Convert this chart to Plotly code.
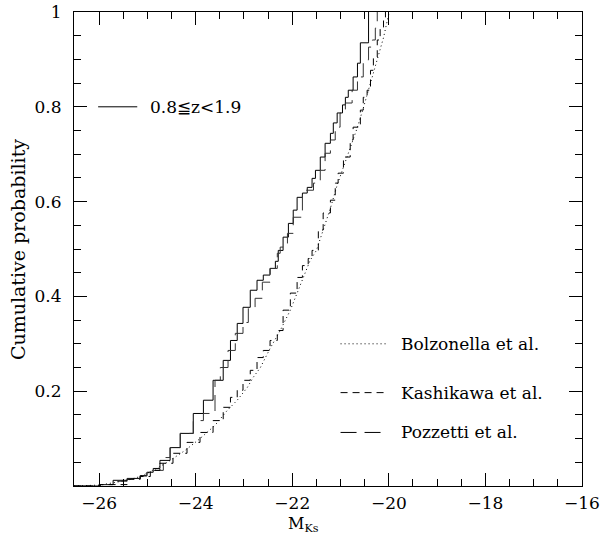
import plotly.graph_objects as go

# ---- data ----
obs_x = [-26.52, -26.25, -25.98, -25.71, -25.42, -25.15, -25.01, -24.88, -24.74, -24.53,
         -24.32, -24.05, -23.84, -23.64, -23.43, -23.28, -23.14, -23.02, -22.87, -22.73,
         -22.60, -22.46, -22.35, -22.29, -22.19, -22.08, -21.98, -21.90, -21.79, -21.69,
         -21.59, -21.52, -21.42, -21.32, -21.21, -21.15, -21.07, -20.96, -20.90, -20.84,
         -20.74, -20.65, -20.59, -20.42, -20.42]
obs_y = [0, 0, 0.003, 0.012, 0.016, 0.022, 0.029, 0.037, 0.054, 0.081,
         0.111, 0.153, 0.181, 0.223, 0.265, 0.307, 0.343, 0.377, 0.413, 0.434,
         0.445, 0.459, 0.474, 0.497, 0.525, 0.554, 0.582, 0.609, 0.618, 0.630,
         0.649, 0.666, 0.694, 0.723, 0.744, 0.766, 0.787, 0.804, 0.820, 0.835,
         0.863, 0.892, 0.935, 0.937, 1.0]

pozzetti_x = [-26.52, -26.25, -25.98, -25.71, -25.42, -25.15, -25.01, -24.88, -24.67, -24.53,
              -24.32, -24.05, -23.84, -23.60, -23.49, -23.33, -23.18, -23.02, -22.91, -22.77,
              -22.62, -22.46, -22.31, -22.25, -22.10, -21.98, -21.79, -21.73, -21.56, -21.42,
              -21.32, -21.21, -21.11, -21.01, -20.90, -20.76, -20.65, -20.53, -20.42, -20.34,
              -20.28, -20.24]
pozzetti_y = [0, 0, 0.003, 0.010, 0.015, 0.021, 0.028, 0.033, 0.060, 0.081,
              0.111, 0.138, 0.153, 0.223, 0.250, 0.286, 0.322, 0.345, 0.377, 0.396,
              0.430, 0.459, 0.491, 0.504, 0.533, 0.567, 0.614, 0.624, 0.639, 0.666,
              0.702, 0.730, 0.757, 0.787, 0.808, 0.835, 0.863, 0.899, 0.926, 0.941,
              0.966, 1.0]

kashikawa_x = [-26.52, -25.98, -25.42, -25.15, -24.94, -24.74, -24.47, -24.18, -23.91, -23.64,
               -23.43, -23.28, -23.14, -23.02, -22.87, -22.73, -22.60, -22.46, -22.31, -22.19,
               -22.04, -21.90, -21.79, -21.67, -21.59, -21.46, -21.36, -21.21, -21.11, -21.05,
               -20.94, -20.80, -20.74, -20.59, -20.53, -20.45, -20.38, -20.32, -20.24, -20.18,
               -20.11, -20.07]
kashikawa_y = [0, 0.003, 0.014, 0.020, 0.033, 0.048, 0.069, 0.092, 0.113, 0.138,
               0.166, 0.187, 0.202, 0.223, 0.244, 0.271, 0.286, 0.307, 0.328, 0.371,
               0.407, 0.440, 0.465, 0.480, 0.497, 0.540, 0.576, 0.603, 0.639, 0.660,
               0.694, 0.730, 0.757, 0.793, 0.820, 0.835, 0.877, 0.905, 0.941, 0.968,
               0.989, 1.0]

bolzonella_x = [-26.52, -25.98, -25.42, -25.15, -24.84, -24.53, -24.22, -23.91, -23.60, -23.35,
                -23.14, -22.93, -22.81, -22.66, -22.46, -22.25, -22.04, -21.90, -21.77, -21.63,
                -21.50, -21.36, -21.21, -21.07, -20.96, -20.80, -20.65, -20.53, -20.42, -20.32,
                -20.22, -20.11, -20.03, -19.99]
bolzonella_y = [0, 0.002, 0.012, 0.020, 0.035, 0.054, 0.075, 0.100, 0.128, 0.159,
                0.181, 0.208, 0.229, 0.250, 0.290, 0.328, 0.371, 0.407, 0.440, 0.476,
                0.497, 0.540, 0.586, 0.635, 0.666, 0.713, 0.757, 0.797, 0.835, 0.873,
                0.909, 0.946, 0.983, 1.0]

x_ticks = [-26, -24, -22, -20, -18, -16]
y_ticks = [0.2, 0.4, 0.6, 0.8, 1.0]
y_tick_text = ["0.2", "0.4", "0.6", "0.8", "1"]

legend_labels = ["Bolzonella et al.", "Kashikawa et al.", "Pozzetti et al."]
legend_dash = ["1px,3px", "7px,5px", "16px,8px"]
legend_y = [0.30, 0.197, 0.113]
sample_label = "0.8≦z<1.9"

X_RANGE = [-26.52, -16]
Y_RANGE = [0, 1]
FONT = "DejaVu Serif"
INK = "black"

fig = go.Figure()

def add_curve(x, y, dash, shape="hv", color=INK):
    fig.add_trace(go.Scatter(x=x, y=y, mode="lines", line_shape=shape,
                             line=dict(color=color, width=1, dash=dash),
                             showlegend=False, hoverinfo="skip"))

add_curve(obs_x, obs_y, "solid")
add_curve(pozzetti_x, pozzetti_y, "16px,8px", color="#333")
add_curve(kashikawa_x, kashikawa_y, "7px,5px")
add_curve(bolzonella_x, bolzonella_y, "1px,3px", shape="linear")

# sample legend (top-left)
fig.add_trace(go.Scatter(x=[-26.02, -25.21], y=[0.8, 0.8], mode="lines",
                         line=dict(color=INK, width=1), showlegend=False, hoverinfo="skip"))
fig.add_annotation(x=-24.98, y=0.8, text=sample_label, showarrow=False,
                   xanchor="left", yanchor="middle", font=dict(family=FONT, size=17, color=INK))

# model legend (bottom-right)
for lab, d, yy in zip(legend_labels, legend_dash, legend_y):
    fig.add_trace(go.Scatter(x=[-21.00, -20.03], y=[yy, yy], mode="lines",
                             line=dict(color=INK, width=1, dash=d),
                             showlegend=False, hoverinfo="skip"))
    fig.add_annotation(x=-19.80, y=yy, text=lab, showarrow=False,
                       xanchor="left", yanchor="middle",
                       font=dict(family=FONT, size=17, color=INK))

# invisible trace for mirrored axes
fig.add_trace(go.Scatter(x=[X_RANGE[0]], y=[0.5], xaxis="x2", yaxis="y2", mode="markers",
                         marker=dict(opacity=0), showlegend=False, hoverinfo="skip"))

axis_common = dict(showgrid=False, zeroline=False, ticks="inside", tickcolor=INK,
                   ticklen=13, tickwidth=1, linecolor=INK, linewidth=1, showline=True,
                   automargin=False)

fig.update_layout(
    width=601, height=538,
    margin=dict(l=74, r=19, t=12, b=52, autoexpand=False),
    paper_bgcolor="white", plot_bgcolor="white",
    font=dict(family=FONT, size=17, color=INK),
    xaxis=dict(range=X_RANGE, tickvals=x_ticks, ticktext=[f"\u2212{abs(v)}" for v in x_ticks],
               minor=dict(dtick=0.5, tick0=-26, ticks="inside", ticklen=7, tickcolor=INK),
               mirror=True, tickfont=dict(size=17), ticklabelstandoff=2, **axis_common),
    yaxis=dict(range=Y_RANGE, tickvals=y_ticks, ticktext=y_tick_text,
               minor=dict(dtick=0.05, tick0=0, ticks="inside", ticklen=7, tickcolor=INK),
               mirror=True, tickfont=dict(size=17), ticklabelstandoff=8, **axis_common),
    xaxis2=dict(range=X_RANGE, overlaying="x", side="top", tickvals=x_ticks, showticklabels=False,
                minor=dict(dtick=0.5, tick0=-26, ticks="inside", ticklen=7, tickcolor=INK),
                **axis_common),
    yaxis2=dict(range=Y_RANGE, overlaying="y", side="right", tickvals=y_ticks, showticklabels=False,
                minor=dict(dtick=0.05, tick0=0, ticks="inside", ticklen=7, tickcolor=INK),
                **axis_common),
)

fig.add_annotation(xref="paper", yref="paper", x=-0.110, y=0.498, text="Cumulative probability",
                   textangle=-90, showarrow=False, xanchor="center", yanchor="middle",
                   font=dict(family=FONT, size=19, color=INK))
fig.add_annotation(xref="paper", yref="paper", x=0.451, y=-0.082, text="M<sub>Ks</sub>",
                   showarrow=False, xanchor="center", yanchor="middle",
                   font=dict(family=FONT, size=16, color=INK))

fig.write_html("out.html")
